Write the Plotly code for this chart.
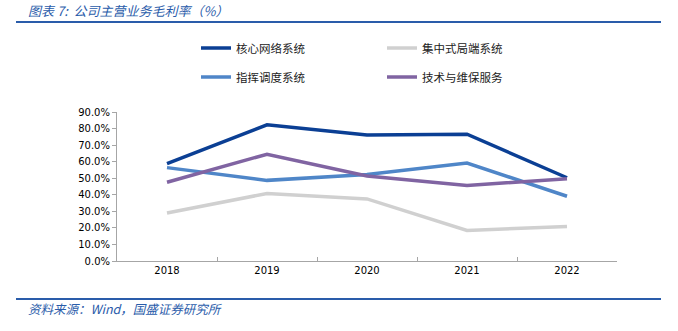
import plotly.graph_objects as go

years = ["2018", "2019", "2020", "2021", "2022"]
core_network = [58.8, 82.3, 76.1, 76.6, 50.3]
centralized = [29.0, 40.8, 37.5, 18.4, 20.9]
dispatch = [56.4, 48.7, 52.3, 59.2, 39.1]
tech_service = [47.6, 64.5, 51.3, 45.6, 49.7]

series = [
    ("核心网络系统", core_network, "#0B3F94", "legend"),
    ("集中式局端系统", centralized, "#D0D0D0", "legend2"),
    ("指挥调度系统", dispatch, "#4F86C8", "legend3"),
    ("技术与维保服务", tech_service, "#8064A2", "legend4"),
]

cjk = "Noto Sans CJK SC"
fig = go.Figure()
for name, vals, color, leg in series:
    fig.add_trace(go.Scatter(
        x=years, y=vals, name=name, mode="lines",
        line=dict(color=color, width=3.5),
        legend=leg,
    ))

# plot area geometry: x 117..617, y 112..261
L, R, T, B = 117, 61, 112, 70
W, H = 678, 331
pw, ph = W - L - R, H - T - B

def px(xpix):
    return (xpix - L) / pw

def py(ypix):
    return (H - B - ypix) / ph

leg_font = dict(family=cjk, size=11.5, color="#222222")
legpos = {
    "legend": (196, 48),
    "legend2": (382, 48),
    "legend3": (196, 77),
    "legend4": (382, 77),
}
legend_layout = {}
for k, (lx, ly) in legpos.items():
    legend_layout[k] = dict(
        x=px(lx), y=py(ly), xanchor="left", yanchor="middle",
        xref="paper", yref="paper", bgcolor="rgba(0,0,0,0)",
        font=leg_font, orientation="h", itemwidth=30,
    )

fig.update_layout(
    width=W, height=H,
    margin=dict(l=L, r=R, t=T, b=B),
    paper_bgcolor="white", plot_bgcolor="white",
    showlegend=True,
    **legend_layout,
    xaxis=dict(
        type="category", showgrid=False, showline=True,
        linecolor="#A6A6A6", linewidth=1,
        ticks="inside", ticklen=4, tickcolor="#A6A6A6",
        tickson="boundaries",
        tickfont=dict(family="DejaVu Sans", size=10, color="#000000"),
        range=[-0.5, 4.5],
    ),
    yaxis=dict(
        range=[0, 90], dtick=10, showgrid=False, showline=True,
        linecolor="#A6A6A6", linewidth=1,
        ticks="outside", ticklen=4, tickcolor="#A6A6A6",
        tickformat=".1f", ticksuffix="%",
        tickfont=dict(family="DejaVu Sans", size=10, color="#000000"),
        zeroline=False,
    ),
    shapes=[
        dict(type="line", xref="paper", yref="paper",
             x0=px(16), x1=px(661), y0=py(22), y1=py(22),
             line=dict(color="#2A5CAA", width=2)),
        dict(type="line", xref="paper", yref="paper",
             x0=px(16), x1=px(661), y0=py(299), y1=py(299),
             line=dict(color="#2A5CAA", width=2)),
    ],
    annotations=[
        dict(text="<i>图表 7:  公司主营业务毛利率（%）</i>", xref="paper", yref="paper",
             x=px(26), y=py(10), xanchor="left", yanchor="middle", showarrow=False,
             font=dict(family=cjk, size=13, color="#2A5CAA")),
        dict(text="<i>资料来源：Wind，国盛证券研究所</i>", xref="paper", yref="paper",
             x=px(26), y=py(308), xanchor="left", yanchor="middle", showarrow=False,
             font=dict(family=cjk, size=12.5, color="#2A5CAA")),
    ],
)

fig.write_html("out.html")
